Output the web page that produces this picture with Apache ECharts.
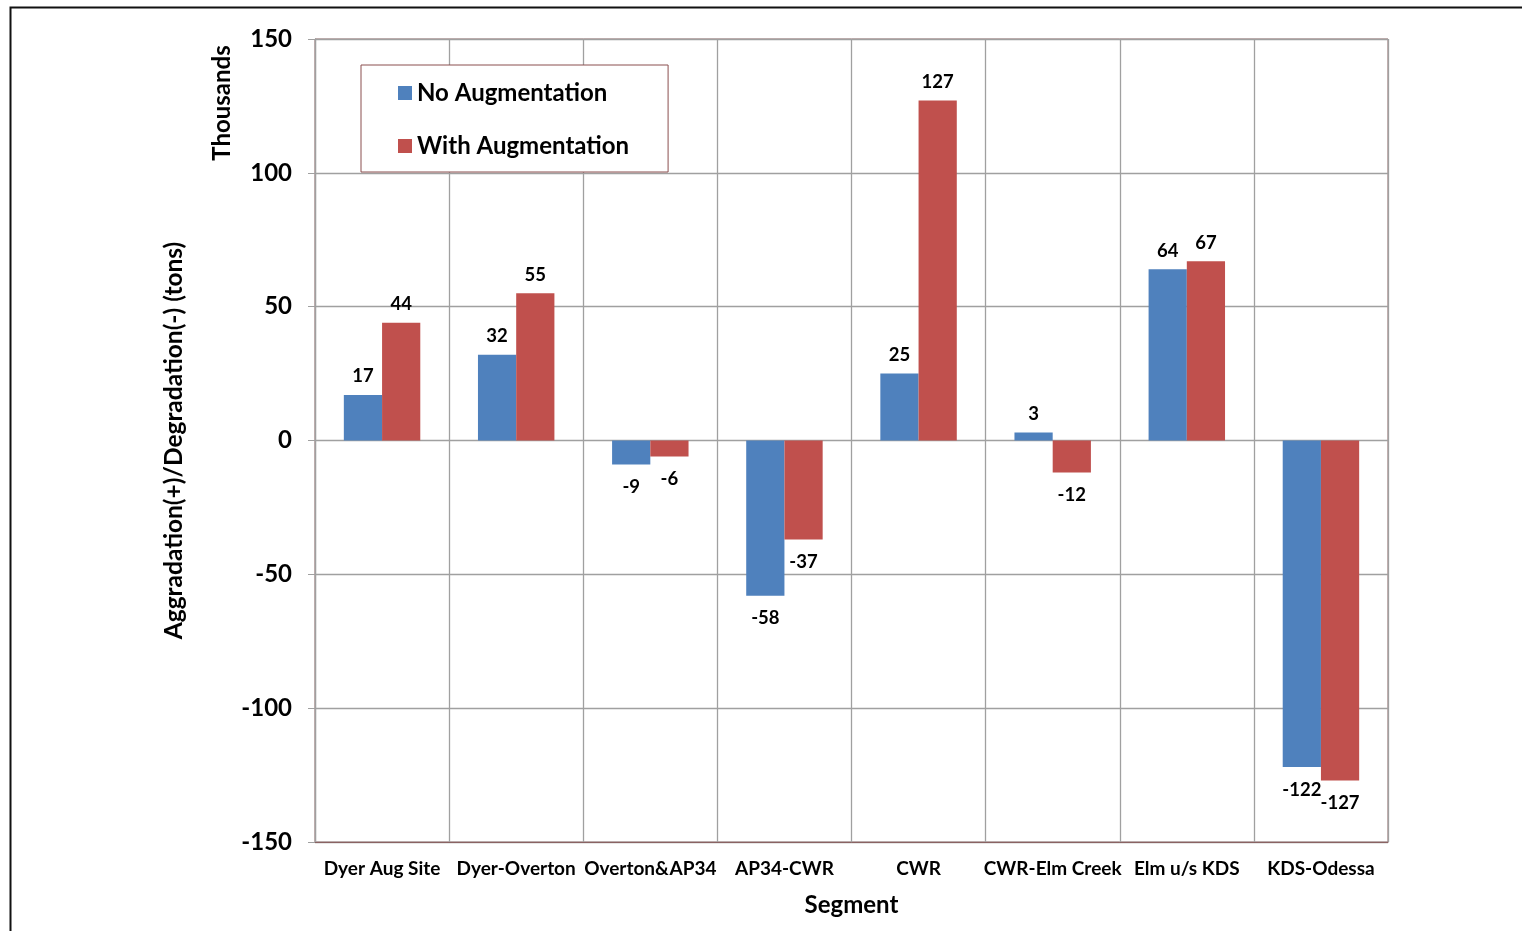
<!DOCTYPE html>
<html><head><meta charset="utf-8">
<script src="https://cdn.jsdelivr.net/npm/echarts@6/dist/echarts.min.js"></script>
<style>html,body{margin:0;padding:0;background:#fff;}#c{width:1522px;height:931px;}</style>
</head><body><div id="c"></div>
<script>
const categories = ['Dyer Aug Site','Dyer-Overton','Overton&AP34','AP34-CWR','CWR','CWR-Elm Creek','Elm u/s KDS','KDS-Odessa'];
const noAug = [17, 32, -9, -58, 25, 3, 64, -122];
const withAug = [44, 55, -6, -37, 127, -12, 67, -127];
const yTicks = [-150, -100, -50, 0, 50, 100, 150];
const seriesNames = ['No Augmentation', 'With Augmentation'];

const FONT = 'Lato';
function mk(vals){
  return vals.map(v => ({value: v, label: v < 0 ? {position: 'bottom', distance: 13} : {position: 'top', distance: 9}}));
}
const chart = echarts.init(document.getElementById('c'));
chart.setOption({
  animation: false,
  textStyle: {fontFamily: FONT},
  grid: {left: 315, right: 134, top: 39, bottom: 89, show: true, borderColor: '#8a6262', borderWidth: 1},
  legend: {
    left: 361, top: 65, orient: 'vertical',
    padding: [16, 39, 14, 37], itemGap: 29,
    borderColor: '#8a4f4f', borderWidth: 1, backgroundColor: '#fff',
    itemWidth: 14, itemHeight: 14, icon: 'rect',
    textStyle: {fontFamily: FONT, fontWeight: 'bold', fontSize: 24, color: '#000'},
    data: seriesNames
  },
  xAxis: {
    type: 'category', data: categories,
    axisLine: {onZero: false, lineStyle: {color: '#8a6262', width: 1}},
    axisTick: {show: false},
    splitLine: {show: true, lineStyle: {color: '#a0a0a0', width: 1.3}},
    axisLabel: {fontFamily: FONT, fontWeight: 'bold', fontSize: 19, color: '#000', margin: 17, interval: 0},
    name: 'Segment', nameLocation: 'middle', nameGap: 51,
    nameTextStyle: {fontFamily: FONT, fontWeight: 'bold', fontSize: 24, color: '#000'}
  },
  yAxis: {
    type: 'value', min: yTicks[0], max: yTicks[yTicks.length-1], interval: 50,
    axisLine: {show: true, lineStyle: {color: '#a0a0a0', width: 1.3}},
    axisTick: {show: true, length: 7, lineStyle: {color: '#a0a0a0'}},
    splitLine: {show: true, lineStyle: {color: '#a0a0a0', width: 1.3}},
    axisLabel: {fontFamily: FONT, fontWeight: 'bold', fontSize: 24, color: '#000', margin: 23},
    name: 'Aggradation(+)/Degradation(-) (tons)', nameLocation: 'middle', nameGap: 128,
    nameTextStyle: {fontFamily: FONT, fontWeight: 'bold', fontSize: 24.5, color: '#000'}
  },
  graphic: [
    {type: 'rect', left: 8, top: 5, shape: {width: 1540, height: 960}, style: {fill: 'none', stroke: '#111', lineWidth: 2}, silent: true, z: -1},
    {type: 'text', x: 222, y: 103, rotation: Math.PI/2, style: {text: 'Thousands', font: 'bold 24px ' + FONT, fill: '#000', textAlign: 'center', textVerticalAlign: 'middle'}}
  ],
  series: [
    {name: seriesNames[0], type: 'bar', data: mk(noAug), barGap: '0%', barCategoryGap: '43%',
     itemStyle: {color: '#4F81BD'},
     label: {show: true, fontFamily: FONT, fontWeight: 'bold', fontSize: 18.5, color: '#000'}},
    {name: seriesNames[1], type: 'bar', data: mk(withAug), barGap: '0%', barCategoryGap: '43%',
     itemStyle: {color: '#C0504D'},
     label: {show: true, fontFamily: FONT, fontWeight: 'bold', fontSize: 18.5, color: '#000'}}
  ]
});
</script></body></html>
